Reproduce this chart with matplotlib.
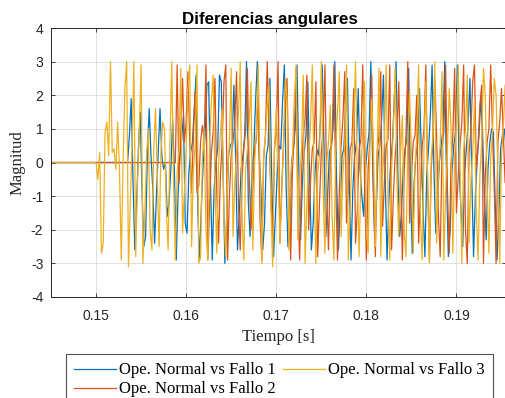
import numpy as np
import matplotlib
matplotlib.use("Agg")
import matplotlib.pyplot as plt

# ---------------- data ----------------
dt = 0.0002
t0 = 0.145

start_f1 = 0.1535
fallo1 = [
    0.0, 0.8, 1.9, -0.5, -2.6, -1.2, 0.4, 1.5, -0.8, -2.5,
    -2.2, 0.3, 1.6, 0.2, -0.8, -2.4, -1.0, 0.3, 1.6, 0.2,
    -0.2, 0.0, -1.6, -1.2, -0.2, 1.3, -0.3, -2.9, -1.0, 0.2,
    0.7, 1.4, -1.8, -2.1, -0.3, 0.3, 0.6, 1.6, 2.6, -1.5,
    -2.9, -1.2, 0.0, 0.8, 2.3, 2.4, -0.6, -2.9, -0.8, 0.0,
    0.4, 2.6, 2.4, -0.3, -3.0, -1.6, 0.2, 0.5, 0.6, 2.3,
    0.0, -2.6, -1.5, -0.2, 0.2, 0.8, 3.0, -1.2, -2.2, -0.3,
    0.3, 1.8, 3.0, 0.3, -0.8, -2.6, -1.8, 0.2, 0.5, 2.5,
    -0.5, -2.8, -1.6, -0.4, 0.5, 0.4, 1.8, 2.9, -0.7, -2.5,
    -2.0, 0.0, 0.4, 1.0, 2.9, -0.1, -2.3, -0.6, 0.3, 0.8,
    2.4, -0.3, -2.6, -1.8, -0.3, 0.4, 0.2, 1.2, 2.9, 0.5,
    -2.2, -1.0, 0.3, 0.5, 1.0, 3.0, -0.6, -2.6, -1.3, 0.2,
    0.4, 1.6, 2.5, -0.5, -2.9, -0.8, 0.2, 0.6, 2.2, -0.2,
    -1.0, -1.6, -0.2, 0.4, 0.9, 3.0, -0.1, -2.1, -1.4, 0.2,
    0.5, 1.3, 2.6, -0.6, -2.9, -1.1, 0.0, 0.6, 1.9, 3.0,
    -0.4, -2.2, -1.5, -0.1, 0.4, 0.7, 2.8, -0.8, -2.7, -0.6,
    0.2, 0.6, 2.2, 0.3, -1.4, -2.8, -0.4, 0.4, 1.4, 2.9,
    -0.2, -2.1, -1.2, 0.0, 0.5, 1.0, 3.0, -0.5, -2.8, -2.0,
    -0.3, 0.5, 0.9, 2.9, -0.2, -1.4, -2.5, -0.3, 0.4, 1.2,
    2.5, -0.4, -2.8, -1.0, 0.1, 0.8, 1.9, 0.9, -1.0, -2.3,
    -0.2, 0.6, 1.0, 0.9, -1.2, -2.9, -1.6, 0.4, 0.8, 1.0, 0.5,
]

start_f2 = 0.1588
fallo2 = [
    0.0, 2.9, -0.6, 0.8, 2.5, 0.6, 1.2, 2.7, 0.6, -0.9,
    0.8, 2.1, -0.9, -0.7, 0.6, 1.1, 0.7, 2.9, -2.9, -1.3,
    0.3, 0.9, 2.5, -0.9, -2.4, -0.4, 0.6, 2.4, 2.9, -2.9,
    -1.0, 0.2, 0.6, 1.2, 2.7, -1.2, -2.6, -0.5, 0.4, 1.0,
    2.8, -0.4, -2.0, -0.8, 0.4, 0.7, 2.2, -1.7, -2.9, 0.1,
    0.8, 3.0, 1.2, -1.0, -2.3, 0.4, 0.9, 3.0, -2.4, -0.8,
    0.5, 1.6, 2.5, -0.7, -2.9, -0.2, 0.8, 2.8, -1.3, -2.9,
    -0.4, 0.8, 1.3, 2.6, -2.0, -0.6, 0.4, 0.6, 2.4, -2.8,
    -1.2, 0.3, 0.9, 2.9, -0.9, -2.6, 0.1, 0.7, 2.9, -0.6,
    -2.9, -0.8, 0.5, 1.3, 2.7, -1.8, -0.8, 0.4, 0.6, 2.2,
    -2.4, -1.4, 0.4, 0.7, 2.9, -0.4, -2.9, -0.2, 0.7, 2.6,
    -1.0, -2.8, 0.3, 0.8, 2.7, -1.9, -0.6, 0.5, 0.7, 2.9,
    -2.6, -1.0, 0.2, 0.9, 2.4, -0.4, -2.9, -0.3, 0.8, 3.0,
    -1.8, -0.5, 0.6, 0.8, 2.0, -2.4, -0.9, 0.5, 1.0, 2.9,
    -0.6, -2.9, -0.2, 0.7, 2.5, 0.8, -1.6, -2.8, 0.4, 0.9,
    2.9, -0.8, -2.7, 0.0, 0.8, 2.8, -1.5, -0.4, 0.5, 1.2,
    2.9, -2.0, -3.0, 0.3, 0.9, 2.4, 2.9, -0.2, 0.5, 1.7,
    2.3, -3.0, -0.4, 0.6, 1.0, 2.9, 0.9, -0.8, -3.0, 0.6,
    1.2, 2.2, 0.9, -0.6, 0.4, 1.5,
]

start_f3 = 0.1500
fallo3 = [
    0.0, -0.5, 0.3, -2.7, -2.4, 0.9, 1.2, 0.2, 3.0, 0.3,
    0.4, -0.2, 1.2, -0.2, -2.9, 0.0, 2.2, 3.0, -3.1, -1.2,
    0.5, 3.0, -2.8, -0.6, 0.9, 2.9, -3.0, -1.6, 0.2, 1.0,
    -2.0, -2.6, 0.4, 1.6, -0.4, -2.5, 0.3, 1.2, 1.0, -1.4,
    -2.6, 0.5, 3.0, -0.5, -2.9, -0.3, 0.4, 2.8, -2.1, -0.9,
    0.4, 2.2, 2.9, -2.5, -0.2, 0.5, 2.9, -3.0, -2.8, 0.1,
    1.0, -2.0, -2.9, 0.6, 1.8, 2.6, -0.6, -2.7, 0.0, 0.9,
    1.6, -1.8, -2.8, -0.4, 0.6, 2.8, -2.2, -0.6, 0.3, 1.4,
    3.0, -1.5, -2.9, -0.2, 0.4, 1.2, 2.4, -2.6, 0.0, 1.0,
    2.9, -0.4, -3.0, 0.2, 0.8, 1.6, 2.3, -1.2, -3.1, 0.4,
    1.6, 0.2, -2.4, -1.0, 0.5, 2.5, 1.9, -2.6, -0.4, 0.2,
    1.9, 2.9, -2.3, -0.5, 0.4, 2.6, -3.0, -1.2, 0.1, 1.1,
    2.9, -0.5, -3.0, -0.3, 0.2, 3.0, -0.8, -2.7, 0.0, 0.6,
    1.7, -1.6, -2.9, 0.4, 1.5, 2.7, -2.2, -0.3, 0.5, 2.9,
    -2.9, -1.4, 0.2, 1.2, 3.0, -0.6, -2.8, -0.2, 0.9, 2.4,
    -2.0, -2.7, 0.5, 1.9, 0.2, -2.5, 0.3, 2.8, -2.8, -0.4,
    0.6, 2.9, -1.0, -2.9, -0.2, 1.0, 2.8, -0.6, -2.2, 0.3,
    1.4, -2.0, -2.8, 0.6, 2.1, 0.3, -2.7, -0.1, 0.8, 2.9,
    -1.6, -2.9, 0.5, 2.4, -0.5, -3.0, 0.2, 0.8, 3.0, -2.4,
    -0.3, 0.6, 2.7, -2.9, -0.9, 0.4, 2.2, 1.0, -2.7, 0.2,
    1.1, 2.9, -0.2, -3.0, 0.4, 1.0, 2.6, -2.4, -0.6, 0.3,
    1.8, -1.5, -2.9, -0.4, 0.6, 2.8, 2.0, -0.6, -2.7, 0.1,
    0.9, 2.5, 2.0, -0.4, -3.0, 0.2, 1.0, 2.3,
]

labels = ["Ope. Normal vs Fallo 1", "Ope. Normal vs Fallo 2", "Ope. Normal vs Fallo 3"]
colors = ["#0072BD", "#D95319", "#EDB120"]
xticks = [0.15, 0.16, 0.17, 0.18, 0.19]
yticks = [-4, -3, -2, -1, 0, 1, 2, 3, 4]


def series(start, vals):
    n = len(vals)
    t = start + dt * np.arange(n)
    return np.concatenate([[t0], t]), np.concatenate([[0.0], vals])


# ---------------- figure ----------------
fig = plt.figure(figsize=(5.06, 3.98), dpi=100)
W, H = 506, 398
ax = fig.add_axes([51 / W, 1 - 297 / H, 455 / W, 269 / H])

lines = []
for start, vals, c, lab in zip([start_f1, start_f2, start_f3],
                               [fallo1, fallo2, fallo3], colors, labels):
    x, y = series(start, vals)
    ln, = ax.plot(x, y, color=c, lw=0.9, label=lab)
    lines.append(ln)

ax.set_xlim(0.145, 0.1955)
ax.set_ylim(-4, 4)
ax.set_xticks(xticks)
ax.set_xticklabels([f"{v:.2f}" for v in xticks])
ax.set_yticks(yticks)
ax.set_yticklabels([str(v) for v in yticks])

sans = ["Liberation Sans", "DejaVu Sans"]
serif = ["Liberation Serif", "DejaVu Serif"]
for lab in ax.get_xticklabels() + ax.get_yticklabels():
    lab.set_fontfamily(sans)
    lab.set_fontsize(10)
    lab.set_color("#262626")

ax.tick_params(direction="in", length=3, width=0.6, color="#262626",
               top=True, right=True)
ax.tick_params(axis="x", pad=9)
ax.tick_params(axis="y", pad=5.5)
ax.grid(True, color="#dcdcdc", lw=0.6)
ax.set_axisbelow(True)
for s in ax.spines.values():
    s.set_color("#262626")
    s.set_linewidth(0.7)

ax.set_title("Diferencias angulares", fontfamily=sans, fontsize=12.2,
             fontweight="bold", pad=3, x=(270 - 51) / 455)
ax.set_xlabel("Tiempo [s]", fontfamily=serif, fontsize=12, color="#262626",
              labelpad=4)
ax.set_ylabel("Magnitud", fontfamily=serif, fontsize=12, color="#262626",
              labelpad=4)

leg = fig.legend(handles=lines, labels=labels, ncol=2,
                 loc="upper center", bbox_to_anchor=(279.5 / W, 1 - 354 / H),
                 prop={"family": serif, "size": 12}, frameon=True,
                 fancybox=False, edgecolor="#262626", handlelength=2.5,
                 handletextpad=0.2, columnspacing=0.4, borderpad=0.5,
                 labelspacing=0.18, borderaxespad=0)
leg.get_frame().set_linewidth(0.8)

fig.savefig("out.png", dpi=100)
